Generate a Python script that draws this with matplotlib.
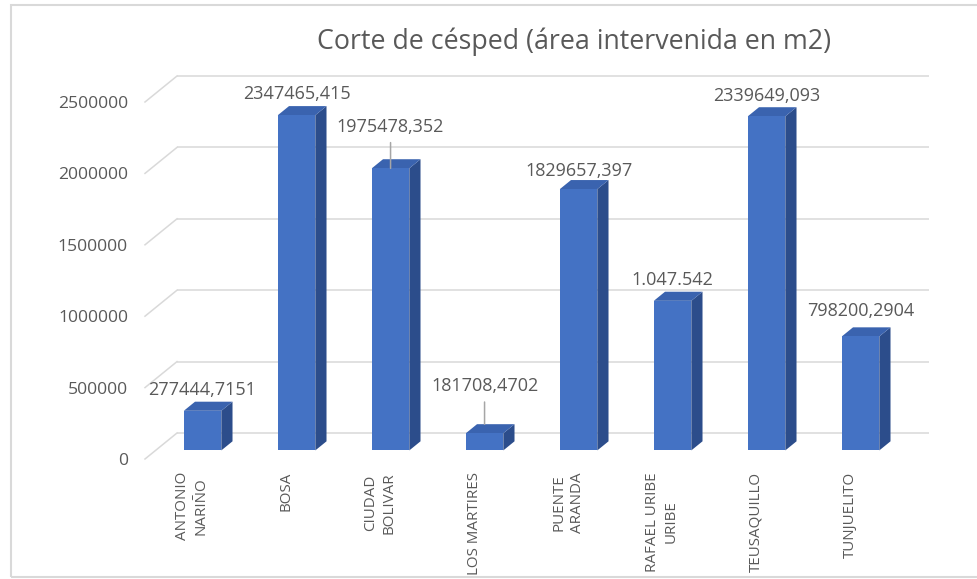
import matplotlib
matplotlib.use("Agg")
import matplotlib.pyplot as plt
from matplotlib.patches import Polygon, Rectangle

plt.rcParams['font.family'] = ['Open Sans', 'DejaVu Sans']

# ---- data ----
categories = ["ANTONIO\nNARIÑO", "BOSA", "CIUDAD\nBOLIVAR", "LOS MARTIRES",
              "PUENTE\nARANDA", "RAFAEL URIBE\nURIBE", "TEUSAQUILLO", "TUNJUELITO"]
values = [277444.7151, 2347465.415, 1975478.352, 120000,
          1829657.397, 1047542, 2339649.093, 798200.2904]
value_labels = ["277444,7151", "2347465,415", "1975478,352", "181708,4702",
                "1829657,397", "1.047.542", "2339649,093", "798200,2904"]
yticks = [0, 500000, 1000000, 1500000, 2000000, 2500000]
title = "Corte de césped (área intervenida en m2)"

# ---- style / layout ----
W, H, DPI = 977, 579, 100
TXT = '#595959'
GRID = '#D9D9D9'
FRONT = '#4472C4'
TOP = '#3A63AF'
SIDE = '#2C4D8B'

px_per_cat = 94.0
px_per_val = 71.4 / 500000
DX = 32 / px_per_cat          # depth in category units
DY = 26 / px_per_val          # depth in value units
f0 = 0.33                     # front depth fraction of bars
bd = 0.35                     # bar depth fraction
bw = 37.5 / px_per_cat        # bar width

fig = plt.figure(figsize=(W / DPI, H / DPI), dpi=DPI)
ax_left, ax_right = 145, 145 + (8 + DX) * px_per_cat
ax_bottom, ax_top = 459, 70
ax = fig.add_axes([ax_left / W, 1 - ax_bottom / H,
                   (ax_right - ax_left) / W, (ax_bottom - ax_top) / H])
ax.set_xlim(-0.5, 7.5 + DX)
ax.set_ylim(0, (ax_bottom - ax_top) / px_per_val)
for s in ax.spines.values():
    s.set_visible(False)

# border frame
fig.patches.append(Rectangle((11 / W, 1 - 577 / H), 1.2, (577 - 5) / H,
                             transform=fig.transFigure, fill=False,
                             edgecolor=GRID, lw=1.5))

# gridlines (back wall + diagonal to front)
for t in yticks:
    ax.plot([-0.5 + DX, 7.5 + DX], [t + DY, t + DY], color=GRID, lw=1.1,
            zorder=1, clip_on=False, solid_capstyle='butt')
    ax.plot([-0.5, -0.5 + DX], [t, t + DY], color=GRID, lw=1.1,
            zorder=1, clip_on=False)

# bars
xs = [i + f0 * DX for i in range(len(values))]
y0 = f0 * DY
ax.bar(xs, values, width=bw, bottom=y0, color=FRONT, zorder=3, linewidth=0)
for x, v in zip(xs, values):
    x0, x1 = x - bw / 2, x + bw / 2
    ddx, ddy = bd * DX, bd * DY
    side = Polygon([(x1, y0), (x1 + ddx, y0 + ddy), (x1 + ddx, y0 + v + ddy),
                    (x1, y0 + v)], closed=True, facecolor=SIDE, edgecolor='none',
                   zorder=2.9)
    top = Polygon([(x0, y0 + v), (x1, y0 + v), (x1 + ddx, y0 + v + ddy),
                   (x0 + ddx, y0 + v + ddy)], closed=True, facecolor=TOP,
                  edgecolor='none', zorder=2.9)
    ax.add_patch(side)
    ax.add_patch(top)

# data labels
label_off = [15, 15, 30, 34, 13, 15, 14.5, 18]   # points above bar top
leader = [False, False, True, True, False, False, False, False]
leader_shrink = [0, 0, 0, 6.5, 0, 0, 0, 0]
for i, (x, v, lab) in enumerate(zip(xs, values, value_labels)):
    kw = {}
    if leader[i]:
        kw['arrowprops'] = dict(arrowstyle='-', color='#A6A6A6', lw=1.1,
                                shrinkA=3, shrinkB=leader_shrink[i])
    ax.annotate(lab, xy=(x, y0 + v), xytext=(0, label_off[i]),
                textcoords='offset points', ha='center', va='center',
                fontsize=13, color=TXT, zorder=5, **kw)

# axes ticks
ax.set_yticks(yticks)
ax.set_yticklabels([str(t) for t in yticks])
ax.set_xticks(range(len(categories)))
ax.set_xticklabels(categories, rotation=90, ha='center', va='top',
                   linespacing=1.3)
ax.tick_params(axis='y', length=0, pad=12.2, labelsize=12.6, labelcolor=TXT)
ax.tick_params(axis='x', length=0, pad=9.4, labelsize=10.9, labelcolor=TXT)

fig.text(574 / W, 1 - 42 / H, title, ha='center', va='center',
         fontsize=19.3, color=TXT)

fig.savefig('out.png', dpi=DPI)
